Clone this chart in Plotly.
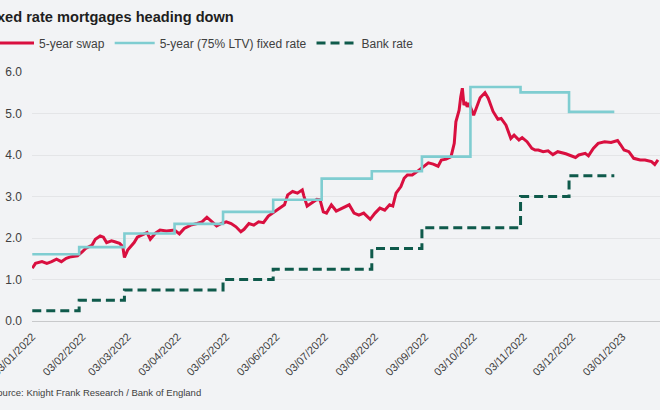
import plotly.graph_objects as go

# ---------------- data ----------------
swap_dates = [
    "2022-01-03", "2022-01-05", "2022-01-09", "2022-01-12", "2022-01-15", "2022-01-18",
    "2022-01-21", "2022-01-24", "2022-01-27", "2022-01-31", "2022-02-03", "2022-02-05",
    "2022-02-09", "2022-02-11", "2022-02-14", "2022-02-16", "2022-02-18", "2022-02-21",
    "2022-02-23", "2022-02-26", "2022-02-28", "2022-03-01", "2022-03-03", "2022-03-05",
    "2022-03-07", "2022-03-09", "2022-03-12", "2022-03-15", "2022-03-17", "2022-03-20",
    "2022-03-23", "2022-03-27", "2022-04-01", "2022-04-04", "2022-04-07", "2022-04-11",
    "2022-04-15", "2022-04-18", "2022-04-21", "2022-04-24", "2022-04-27", "2022-04-30",
    "2022-05-03", "2022-05-06", "2022-05-09", "2022-05-12", "2022-05-14", "2022-05-17",
    "2022-05-20", "2022-05-23", "2022-05-26", "2022-05-29", "2022-06-02", "2022-06-05",
    "2022-06-08", "2022-06-10", "2022-06-13", "2022-06-16", "2022-06-19", "2022-06-20",
    "2022-06-22", "2022-06-25", "2022-06-28", "2022-06-30", "2022-07-02", "2022-07-04",
    "2022-07-05", "2022-07-07", "2022-07-10", "2022-07-14", "2022-07-18", "2022-07-21",
    "2022-07-24", "2022-07-27", "2022-07-31", "2022-08-03", "2022-08-06", "2022-08-09",
    "2022-08-12", "2022-08-14", "2022-08-16", "2022-08-19", "2022-08-21", "2022-08-23",
    "2022-08-26", "2022-08-29", "2022-09-02", "2022-09-05", "2022-09-08", "2022-09-11",
    "2022-09-13", "2022-09-16", "2022-09-19", "2022-09-21", "2022-09-22", "2022-09-24",
    "2022-09-25", "2022-09-26", "2022-09-27", "2022-09-28", "2022-09-29", "2022-09-30",
    "2022-10-03", "2022-10-05", "2022-10-07", "2022-10-10", "2022-10-12", "2022-10-15",
    "2022-10-18", "2022-10-20", "2022-10-23", "2022-10-26", "2022-10-28", "2022-10-31",
    "2022-11-02", "2022-11-05", "2022-11-08", "2022-11-10", "2022-11-12", "2022-11-15",
    "2022-11-18", "2022-11-21", "2022-11-24", "2022-11-29", "2022-12-01", "2022-12-05",
    "2022-12-07", "2022-12-11", "2022-12-13", "2022-12-16", "2022-12-19", "2022-12-23",
    "2022-12-27", "2022-12-31", "2023-01-02", "2023-01-04", "2023-01-07", "2023-01-10",
    "2023-01-14", "2023-01-17", "2023-01-21", "2023-01-23", "2023-01-25",
]
swap_values = [
    1.27, 1.39, 1.43, 1.39, 1.43, 1.49,
    1.43, 1.51, 1.55, 1.57, 1.67, 1.75,
    1.83, 1.97, 2.05, 2.02, 1.89, 1.93,
    1.91, 1.87, 1.79, 1.53, 1.71, 1.79,
    1.89, 2.02, 2.07, 2.13, 1.97, 2.11,
    2.19, 2.17, 2.19, 2.10, 2.23, 2.31,
    2.35, 2.39, 2.50, 2.39, 2.29, 2.35,
    2.39, 2.35, 2.27, 2.15, 2.21, 2.35,
    2.31, 2.39, 2.37, 2.53, 2.63, 2.72,
    2.80, 3.04, 3.12, 3.08, 3.16, 3.01,
    2.77, 2.85, 2.93, 2.92, 2.63, 2.60,
    2.67, 2.80, 2.65, 2.72, 2.80, 2.60,
    2.55, 2.60, 2.45, 2.60, 2.72, 2.67,
    2.80, 2.77, 3.08, 3.24, 3.44, 3.52,
    3.52, 3.60, 3.73, 3.81, 3.78, 3.73,
    3.88, 3.90, 3.96, 4.28, 4.80, 5.08,
    5.40, 5.61, 5.20, 5.28, 5.16, 5.25,
    4.96, 5.16, 5.38, 5.50, 5.37, 5.05,
    4.86, 4.88, 4.72, 4.40, 4.48, 4.36,
    4.42, 4.32, 4.16, 4.12, 4.12, 4.08,
    4.10, 4.01, 4.08, 4.03, 4.00, 3.94,
    4.00, 4.04, 3.98, 4.16, 4.28, 4.32,
    4.30, 4.35, 4.24, 4.12, 4.08, 3.92,
    3.88, 3.88, 3.84, 3.77, 3.88,
]

fixed_dates = ["2022-01-03", "2022-02-01", "2022-03-01", "2022-04-01", "2022-05-01",
               "2022-06-01", "2022-07-01", "2022-08-01", "2022-09-01", "2022-10-01",
               "2022-11-01", "2022-12-01", "2022-12-29"]
fixed_values = [1.61, 1.78, 2.11, 2.34, 2.63, 2.92, 3.43, 3.61, 3.96, 5.64, 5.51, 5.04, 5.04]

bank_dates = ["2022-01-03", "2022-02-01", "2022-03-01", "2022-05-01", "2022-06-01",
              "2022-08-01", "2022-09-01", "2022-11-01", "2022-12-01", "2022-12-29"]
bank_values = [0.25, 0.50, 0.75, 1.00, 1.25, 1.75, 2.25, 3.00, 3.50, 3.50]

tick_dates = ["2022-01-03", "2022-02-03", "2022-03-03", "2022-04-03", "2022-05-03",
              "2022-06-03", "2022-07-03", "2022-08-03", "2022-09-03", "2022-10-03",
              "2022-11-03", "2022-12-03", "2023-01-03"]
tick_labels = ["03/01/2022", "03/02/2022", "03/03/2022", "03/04/2022", "03/05/2022",
               "03/06/2022", "03/07/2022", "03/08/2022", "03/09/2022", "03/10/2022",
               "03/11/2022", "03/12/2022", "03/01/2023"]
y_ticks = [0, 1, 2, 3, 4, 5, 6]

title_text = "Fixed rate mortgages heading down"
source_text = "Source: Knight Frank Research / Bank of England"

# ---------------- figure ----------------
FONT = "Arial, 'Liberation Sans', sans-serif"
BG = "#f2f3f5"

fig = go.Figure()
fig.add_trace(go.Scatter(x=swap_dates, y=swap_values, mode="lines", name="5-year swap",
                         line=dict(color="#d90f3f", width=3)))
fig.add_trace(go.Scatter(x=fixed_dates, y=fixed_values, mode="lines",
                         name="5-year (75% LTV) fixed rate", line_shape="hv",
                         line=dict(color="#7fcdd1", width=2.6)))
fig.add_trace(go.Scatter(x=bank_dates, y=bank_values, mode="lines", name="Bank rate",
                         line_shape="hv",
                         line=dict(color="#0f5a4b", width=3, dash="9px,5px")))

# plot area: left 32px, top 72px, bottom 321px, right edge 660px
L, T, B = 32, 72, 89
PW, PH = 660 - L, 410 - T - B

def px_x(p):
    return (p - L) / PW

def px_y(p):
    return (410 - B - p) / PH

fig.update_layout(
    width=660, height=410,
    margin=dict(l=L, r=0, t=T, b=B, autoexpand=False),
    paper_bgcolor=BG, plot_bgcolor=BG,
    font=dict(family=FONT, size=11, color="#404040"),
    showlegend=True,
    legend=dict(orientation="h", x=px_x(-11), xanchor="left", y=px_y(43), yanchor="middle",
                font=dict(family=FONT, size=12, color="#404040"),
                itemwidth=40, bgcolor="rgba(0,0,0,0)", traceorder="normal"),
    xaxis=dict(type="date", range=["2022-01-02 20:00", "2023-01-26 06:00"],
               tickmode="array", tickvals=tick_dates, ticktext=tick_labels,
               tickangle=-45, tickfont=dict(size=11, color="#404040"),
               ticklabeloverflow="allow",
               showgrid=False, showline=True, linecolor="#c8c9cb", linewidth=1,
               ticks="", zeroline=False, ticklabelstandoff=4),
    yaxis=dict(range=[0, 6], tickmode="array", tickvals=y_ticks, tickformat=".1f",
               tickfont=dict(size=12, color="#404040"),
               showgrid=True, gridcolor="#e4e5e7", gridwidth=1,
               zeroline=False, showline=False, ticks="", ticklabelstandoff=9),
    annotations=[
        dict(text="<b>" + title_text + "</b>", xref="paper", yref="paper",
             x=px_x(-18), y=px_y(17), xanchor="left", yanchor="middle",
             showarrow=False, font=dict(family=FONT, size=14.6, color="#1e1e1e")),
        dict(text=source_text, xref="paper", yref="paper",
             x=px_x(-11), y=px_y(392), xanchor="left", yanchor="middle",
             showarrow=False, font=dict(family=FONT, size=9.5, color="#404040")),
    ],
)

fig.write_html("out.html")
